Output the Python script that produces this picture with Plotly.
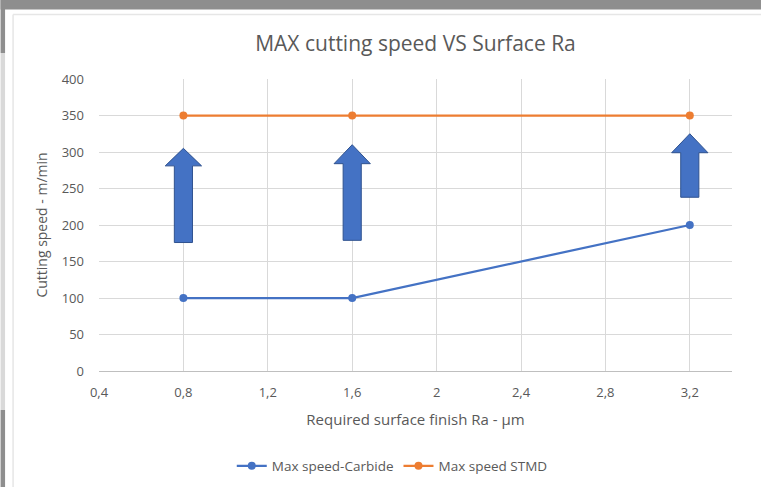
import plotly.graph_objects as go

# ---- data ----
ra_values = [0.8, 1.6, 3.2]
carbide_speed = [100, 100, 200]
stmd_speed = [350, 350, 350]
x_ticks = [0.4, 0.8, 1.2, 1.6, 2.0, 2.4, 2.8, 3.2]
x_tick_labels = ["0,4", "0,8", "1,2", "1,6", "2", "2,4", "2,8", "3,2"]
y_ticks = [0, 50, 100, 150, 200, 250, 300, 350, 400]
# arrows: (bottom, head base, tip) in speed units, one per Ra value
arrow_bottom = [176, 179, 238]
arrow_head_base = [281, 284, 299]
arrow_tip = [305, 310, 325]

W, H = 761, 487
L, R, T, B = 98.5, 29, 79, 116
pw, ph = W - L - R, H - T - B

def px(x):
    return (x - L) / pw

def py(y):
    return (H - B - y) / ph

fig = go.Figure()
fig.add_trace(go.Scatter(x=ra_values, y=carbide_speed, mode="lines+markers",
                         name="Max speed-Carbide",
                         line=dict(color="#4472c4", width=2.25),
                         marker=dict(color="#4472c4", size=8)))
fig.add_trace(go.Scatter(x=ra_values, y=stmd_speed, mode="lines+markers",
                         name="Max speed STMD",
                         line=dict(color="#ed7d31", width=2.25),
                         marker=dict(color="#ed7d31", size=8)))

shapes = []
# background frame (screenshot edges)
shapes.append(dict(type="rect", xref="paper", yref="paper", x0=px(0), x1=px(W), y0=py(0), y1=py(9.5),
                   fillcolor="#8e8e8e", line=dict(width=0), layer="below"))
shapes.append(dict(type="rect", xref="paper", yref="paper", x0=px(0), x1=px(4.5), y0=py(0), y1=py(53),
                   fillcolor="#8e8e8e", line=dict(width=0), layer="below"))
shapes.append(dict(type="rect", xref="paper", yref="paper", x0=px(0), x1=px(4.5), y0=py(53), y1=py(410),
                   fillcolor="#d9d9d9", line=dict(width=0), layer="below"))
shapes.append(dict(type="rect", xref="paper", yref="paper", x0=px(0), x1=px(4.5), y0=py(410), y1=py(H),
                   fillcolor="#8e8e8e", line=dict(width=0), layer="below"))
shapes.append(dict(type="line", xref="paper", yref="paper", x0=px(12.5), x1=px(W), y0=py(14.5), y1=py(14.5),
                   line=dict(color="#e6e6e6", width=1.5), layer="below"))
shapes.append(dict(type="line", xref="paper", yref="paper", x0=px(12.5), x1=px(12.5), y0=py(14.5), y1=py(H),
                   line=dict(color="#e6e6e6", width=1.5), layer="below"))

# block arrows
shaft_half = 0.043
head_half = 0.086
for xc, yb, yh, yt in zip(ra_values, arrow_bottom, arrow_head_base, arrow_tip):
    path = (f"M {xc - shaft_half} {yb} L {xc + shaft_half} {yb} L {xc + shaft_half} {yh} "
            f"L {xc + head_half} {yh} L {xc} {yt} L {xc - head_half} {yh} "
            f"L {xc - shaft_half} {yh} Z")
    shapes.append(dict(type="path", xref="x", yref="y", path=path,
                       fillcolor="#4472c4", line=dict(color="#2f528f", width=1), layer="above"))

font_fam = "Open Sans, Noto Sans, sans-serif"
fig.update_layout(
    width=W, height=H,
    margin=dict(l=L, r=R, t=T, b=B, pad=0, autoexpand=False),
    paper_bgcolor="white", plot_bgcolor="white",
    font=dict(family=font_fam, color="#595959", size=13),
    title=dict(text="MAX cutting speed VS Surface Ra", x=0.5, xref="paper", xanchor="center",
               y=1 - 44 / H, yanchor="middle",
               font=dict(size=21, color="#595959", family=font_fam)),
    xaxis=dict(range=[0.4, 3.4], tickvals=x_ticks, ticktext=x_tick_labels,
               showgrid=True, gridcolor="#d9d9d9", gridwidth=1,
               showline=True, linecolor="#bfbfbf", linewidth=1,
               zeroline=False, ticks="", ticklen=0, ticklabelstandoff=9,
               tickfont=dict(size=13, color="#595959"),
               title=dict(text="Required surface finish Ra - µm", standoff=14,
                          font=dict(size=15, color="#595959"))),
    yaxis=dict(range=[0, 400], tickvals=y_ticks,
               showgrid=True, gridcolor="#d9d9d9", gridwidth=1,
               showline=False, zeroline=False, ticks="", ticklabelstandoff=14,
               tickfont=dict(size=13, color="#595959"),
               title=dict(text="Cutting speed - m/min", standoff=10,
                          font=dict(size=14, color="#595959"))),
    legend=dict(orientation="h", x=px(392), xanchor="center", y=py(466), yanchor="middle",
                font=dict(size=13.5, color="#595959"), bgcolor="rgba(0,0,0,0)",
                itemwidth=30),
    shapes=shapes,
    showlegend=True,
)

fig.write_html("out.html", config={"displayModeBar": False},
               post_script="document.body.style.margin='0';document.body.style.padding='0';")
